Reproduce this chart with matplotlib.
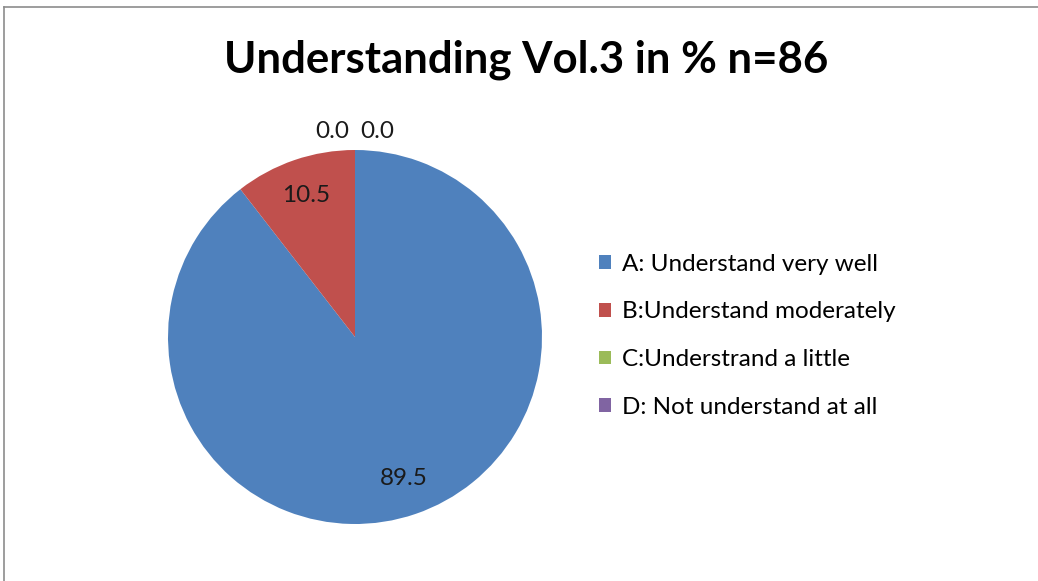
import numpy as np
import matplotlib
matplotlib.use('Agg')
import matplotlib.pyplot as plt
from matplotlib.lines import Line2D
from matplotlib.patches import Patch

plt.rcParams.update({'font.family': 'Lato'})

categories = ['A: Understand very well', 'B:Understand moderately',
              'C:Understrand a little', 'D: Not understand at all']
values = [89.5, 10.5, 0.0, 0.0]
colors = ['#4F81BD', '#C0504D', '#9BBB59', '#8064A2']
title = 'Understanding Vol.3 in % n=86'

fig = plt.figure(figsize=(10.38, 5.81), dpi=100)
ax = fig.add_axes([168 / 1038, 57 / 581, 374 / 1038, 374 / 581])

wedges, _ = ax.pie(values, colors=colors, startangle=90, counterclock=False,
                   radius=1, wedgeprops=dict(linewidth=0))
ax.set_xlim(-1, 1)
ax.set_ylim(-1, 1)
ax.axis('off')

# value labels: inside for real slices, just above the rim for empty ones
zero_side = [-1, 1]
zi = 0
for w, v in zip(wedges, values):
    mid = np.deg2rad((w.theta1 + w.theta2) / 2)
    if v > 0:
        r = 0.8
        ax.text(r * np.cos(mid), r * np.sin(mid), f'{v:.1f}', ha='center', va='center',
                fontsize=17.5, color='#1a1a1a')
    else:
        s = zero_side[zi]
        zi += 1
        ax.text(1.1 * np.cos(mid) + s * 0.03, 1.1 * np.sin(mid), f'{v:.1f}',
                ha='right' if s < 0 else 'left', va='center', fontsize=17.5,
                color='#1a1a1a', clip_on=False)

fig.text(0.507, 0.897, title, ha='center', va='center', fontsize=31.5, fontweight='bold')

handles = [Patch(facecolor=c, edgecolor='none') for c in colors]
fig.legend(handles, categories, loc='center left', bbox_to_anchor=(0.556, 0.422),
           frameon=False, fontsize=17.5, handlelength=0.5, handleheight=0.5,
           handletextpad=0.45, labelspacing=1.1)

# thin frame along the top and left edges
fig.add_artist(Line2D([4.5 / 1038, 4.5 / 1038], [0, 1 - 7 / 581], color='#8c8c8c', lw=1.2))
fig.add_artist(Line2D([4.5 / 1038, 1], [1 - 7 / 581, 1 - 7 / 581], color='#8c8c8c', lw=1.2))

plt.savefig('out.png', dpi=100)
plt.close()
